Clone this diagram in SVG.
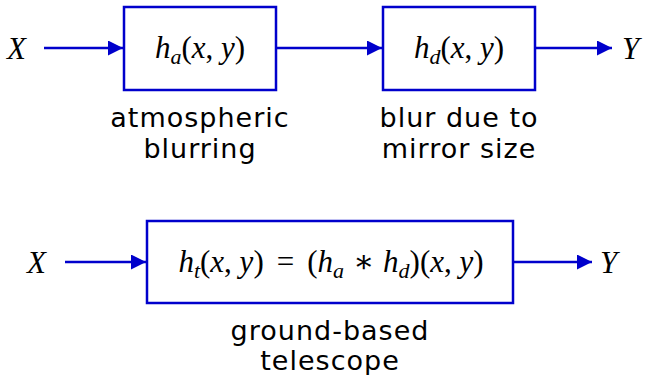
<svg xmlns="http://www.w3.org/2000/svg" width="650" height="375" viewBox="0 0 650 375">
<style>
.box{fill:#fff;stroke:#0000cc;stroke-width:2.5}
.wire{stroke:#0000cc;stroke-width:2.5;fill:none}
.m{font-family:"Liberation Serif","DejaVu Serif",serif;font-size:31px;fill:#000}
.i{font-style:italic}
.lbl{font-family:"DejaVu Sans","Noto Sans",sans-serif;font-size:27px;letter-spacing:1px;fill:#000;text-anchor:middle}
</style>
<defs>
<marker id="ah" viewBox="0 0 10 10" refX="10" refY="5" markerWidth="6" markerHeight="6" markerUnits="strokeWidth" orient="auto">
<path d="M0,0 L10,5 L0,10 z" fill="#0000cc"/>
</marker>
</defs>
<g id="connectors">
<line class="wire" x1="44" y1="48" x2="123" y2="48" marker-end="url(#ah)"/>
<line class="wire" x1="276" y1="48" x2="382" y2="48" marker-end="url(#ah)"/>
<line class="wire" x1="535" y1="48" x2="612" y2="48" marker-end="url(#ah)"/>
<line class="wire" x1="65" y1="262" x2="146" y2="262" marker-end="url(#ah)"/>
<line class="wire" x1="513" y1="262" x2="592" y2="262" marker-end="url(#ah)"/>
</g>
<g id="inX1"><text class="m i" x="7" y="59">X</text></g>
<g id="outY1"><text class="m i" x="622" y="59">Y</text></g>
<g id="inX2"><text class="m i" x="27" y="273">X</text></g>
<g id="outY2"><text class="m i" x="600" y="273">Y</text></g>
<g id="ha">
<rect class="box" x="124" y="7" width="152" height="83"/>
<text class="m" x="200" y="58" text-anchor="middle"><tspan class="i">h</tspan><tspan class="i" font-size="22" dy="6">a</tspan><tspan dy="-6">(</tspan><tspan class="i">x</tspan>, <tspan class="i">y</tspan>)</text>
<text class="lbl" x="200" y="127">atmospheric</text>
<text class="lbl" x="200" y="158">blurring</text>
</g>
<g id="hd">
<rect class="box" x="383" y="7" width="152" height="83"/>
<text class="m" x="459" y="58" text-anchor="middle"><tspan class="i">h</tspan><tspan class="i" font-size="22" dy="6">d</tspan><tspan dy="-6">(</tspan><tspan class="i">x</tspan>, <tspan class="i">y</tspan>)</text>
<text class="lbl" x="459" y="127">blur due to</text>
<text class="lbl" x="459" y="158">mirror size</text>
</g>
<g id="ht">
<rect class="box" x="147" y="221" width="366" height="82"/>
<text class="m" x="331" y="272" text-anchor="middle"><tspan class="i">h</tspan><tspan class="i" font-size="22" dy="6">t</tspan><tspan dy="-6">(</tspan><tspan class="i">x</tspan>, <tspan class="i">y</tspan>)<tspan dx="13">=</tspan><tspan dx="13">(</tspan><tspan class="i">h</tspan><tspan class="i" font-size="22" dy="6">a</tspan><tspan dy="-6" dx="9">∗</tspan><tspan class="i" dx="9">h</tspan><tspan class="i" font-size="22" dy="6">d</tspan><tspan dy="-6">)(</tspan><tspan class="i">x</tspan>, <tspan class="i">y</tspan>)</text>
<text class="lbl" x="330" y="340">ground-based</text>
<text class="lbl" x="330" y="370">telescope</text>
</g>
</svg>
